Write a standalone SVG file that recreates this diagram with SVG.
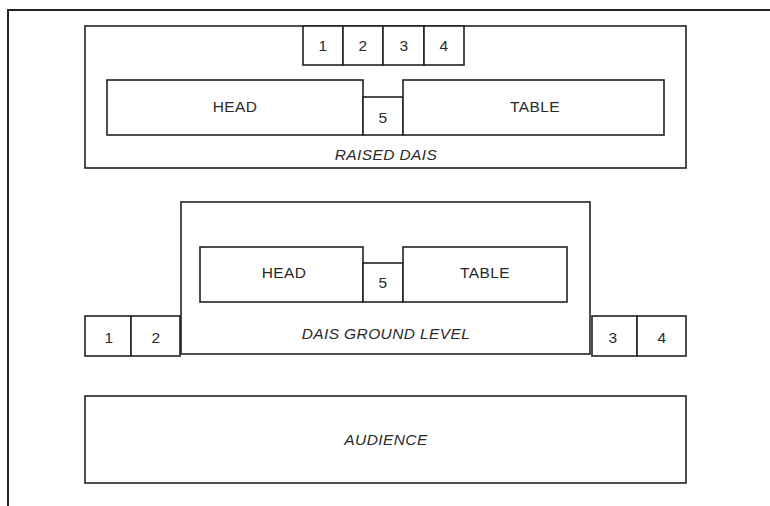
<svg xmlns="http://www.w3.org/2000/svg" width="770" height="506" viewBox="0 0 770 506">
<style>
rect{fill:#fff;stroke:#222;stroke-width:1.6}
.f{fill:none;stroke:#222;stroke-width:2}
text{font-family:"Liberation Sans",Arial,sans-serif;font-size:15.5px;fill:#2a2a2a;text-anchor:middle;letter-spacing:0.4px}
.i{font-style:italic}
</style>
<rect width="770" height="506" style="stroke:none"/>
<g id="frame"><path class="f" d="M8,506 V10 H770"/></g>
<g id="raised-dais">
<rect x="85" y="26" width="601" height="142"/>
<text class="i" x="386" y="160">RAISED DAIS</text>
</g>
<g id="raised-seats">
<rect x="303" y="26" width="40" height="39"/><text x="323" y="51">1</text>
<rect x="343" y="26" width="40" height="39"/><text x="363" y="51">2</text>
<rect x="383" y="26" width="41" height="39"/><text x="404" y="51">3</text>
<rect x="424" y="26" width="40" height="39"/><text x="444" y="51">4</text>
</g>
<g id="raised-head"><rect x="107" y="80" width="256" height="55"/><text x="235" y="112">HEAD</text></g>
<g id="raised-5"><rect x="363" y="97" width="40" height="38"/><text x="383" y="123">5</text></g>
<g id="raised-table"><rect x="403" y="80" width="261" height="55"/><text x="535" y="112">TABLE</text></g>
<g id="ground-dais">
<rect x="181" y="202" width="409" height="152"/>
<text class="i" x="386" y="339">DAIS GROUND LEVEL</text>
</g>
<g id="ground-head"><rect x="200" y="247" width="163" height="55"/><text x="284" y="278">HEAD</text></g>
<g id="ground-5"><rect x="363" y="263" width="40" height="39"/><text x="383" y="288">5</text></g>
<g id="ground-table"><rect x="403" y="247" width="164" height="55"/><text x="485" y="278">TABLE</text></g>
<g id="seats-left">
<rect x="85" y="316" width="46" height="40"/><text x="109" y="343">1</text>
<rect x="131" y="316" width="49" height="40"/><text x="156" y="343">2</text>
</g>
<g id="seats-right">
<rect x="592" y="316" width="45" height="40"/><text x="613" y="343">3</text>
<rect x="637" y="316" width="49" height="40"/><text x="662" y="343">4</text>
</g>
<g id="audience"><rect x="85" y="396" width="601" height="87"/><text class="i" x="386" y="445">AUDIENCE</text></g>
<g id="connectors"/>
</svg>
